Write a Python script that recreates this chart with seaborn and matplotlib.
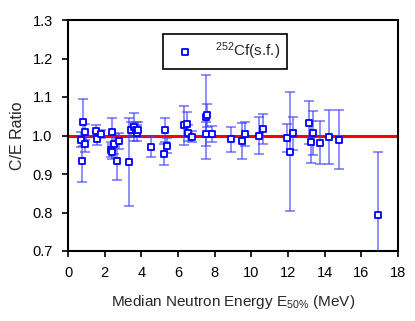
import matplotlib
matplotlib.use("Agg")
import matplotlib.pyplot as plt
import seaborn as sns
import pandas as pd

energy = [0.73, 0.78, 0.82, 0.91, 0.95, 1.55, 1.60, 1.82, 2.36, 2.42, 2.42, 2.49,
          2.69, 2.78, 3.33, 3.42, 3.60, 3.71, 3.75, 3.84, 4.51, 5.24, 5.29, 5.42,
          6.35, 6.47, 6.56, 6.78, 7.53, 7.57, 7.53, 7.84, 8.89, 9.47, 9.66, 10.44,
          10.66, 11.93, 12.11, 12.29, 13.15, 13.24, 13.38, 13.75, 14.25, 14.78, 16.93]
ce_ratio = [0.989, 0.935, 1.034, 1.009, 0.978, 1.011, 0.991, 1.004, 0.963, 1.009, 0.958, 0.978,
            0.935, 0.986, 0.931, 1.015, 1.022, 1.015, 1.006, 1.015, 0.970, 0.951, 1.015, 0.974,
            1.026, 1.030, 1.006, 0.997, 1.048, 1.052, 1.004, 1.004, 0.990, 0.985, 1.004, 1.000,
            1.017, 0.994, 0.958, 1.006, 1.033, 0.983, 1.006, 0.981, 0.997, 0.989, 0.794]
ce_err = [0.020, 0.056, 0.060, 0.020, 0.020, 0.015, 0.015, 0.010, 0.020, 0.037, 0.020, 0.025,
          0.050, 0.020, 0.115, 0.020, 0.036, 0.020, 0.020, 0.020, 0.027, 0.027, 0.031, 0.020,
          0.050, 0.030, 0.020, 0.015, 0.110, 0.030, 0.030, 0.020, 0.032, 0.047, 0.030, 0.049,
          0.039, 0.036, 0.155, 0.043, 0.056, 0.055, 0.057, 0.056, 0.070, 0.076, 0.163]

x_ticks = [0, 2, 4, 6, 8, 10, 12, 14, 16, 18]
y_ticks = [0.7, 0.8, 0.9, 1.0, 1.1, 1.2, 1.3]
legend_label = r"$^{\mathregular{252}}$Cf(s.f.)"

sns.set_style("ticks")
plt.rcParams['font.family'] = ['Liberation Sans', 'DejaVu Sans']
plt.rcParams['mathtext.fontset'] = 'custom'
plt.rcParams['mathtext.rm'] = 'Liberation Sans'
plt.rcParams['mathtext.it'] = 'Liberation Sans'

df = pd.DataFrame({"E": energy, "CE": ce_ratio, "err": ce_err})

fig = plt.figure(figsize=(4.15, 3.21), dpi=100)
ax = fig.add_axes([68/415, 1-251/321, 330/415, 231/321])

ax.axhline(1.0, color='red', lw=2.2, zorder=2)
ax.errorbar(df["E"], df["CE"], yerr=df["err"], fmt='none', ecolor=(0.25, 0.25, 1.0),
            elinewidth=1.1, capsize=3.5, capthick=1.1, alpha=0.75, zorder=3)
sns.scatterplot(data=df, x="E", y="CE", ax=ax, marker='s', s=15, facecolor='white',
                edgecolor='blue', linewidth=1.3, zorder=4, label=legend_label)

ax.set_xlim(0, 18)
ax.set_ylim(0.7, 1.3)
ax.set_xticks(x_ticks)
ax.set_yticks(y_ticks)
ax.set_xticklabels([str(t) for t in x_ticks])
ax.set_yticklabels([f"{t:.1f}" for t in y_ticks])
ax.tick_params(axis='both', direction='out', length=4, width=1.2, labelsize=10.5, colors='black')
ax.tick_params(axis='x', pad=7)
ax.tick_params(axis='y', pad=7)
for s in ax.spines.values():
    s.set_visible(True)
    s.set_linewidth(1.5)
    s.set_color('black')

ax.set_xlabel(r"Median Neutron Energy E$_{50\%}$ (MeV)", fontsize=11, labelpad=9)
ax.set_ylabel("C/E Ratio", fontsize=11.5, labelpad=5)

leg = ax.legend(loc='upper left', bbox_to_anchor=(87/330, 1 - 6/231), fontsize=11,
                frameon=True, fancybox=False, edgecolor='black', framealpha=1,
                handletextpad=1.0, borderpad=0.45, markerscale=1.0)
leg.get_frame().set_linewidth(1.2)

fig.savefig("out.png", dpi=100)
